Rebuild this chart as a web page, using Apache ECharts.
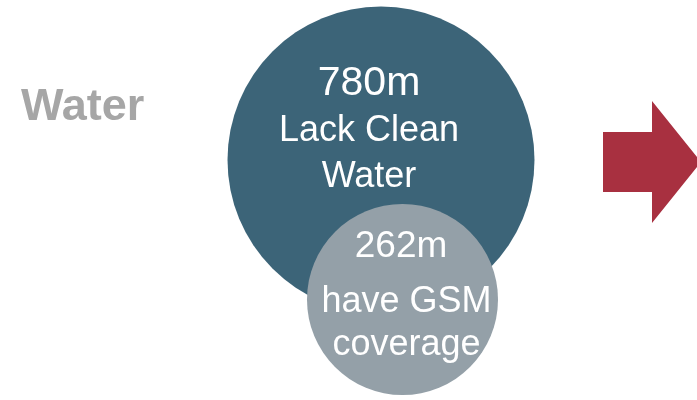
<!DOCTYPE html>
<html>
<head>
<meta charset="utf-8">
<script src="https://cdn.jsdelivr.net/npm/echarts@6/dist/echarts.min.js"></script>
<style>
  html, body { margin: 0; padding: 0; background: #ffffff; }
  #chart { width: 697px; height: 400px; }
</style>
</head>
<body>
<div id="chart"></div>
<script>
// Population figures (millions) and their captions
const groups = ['Lack Clean\nWater', 'have GSM\ncoverage'];
const values = [780, 262];
const valueLabels = ['780m', '262m'];
const sectionTitle = 'Water';

// Layout: bubble centres and diameters on a pixel-sized hidden grid
const layout = [
  { cx: 381, cy: 160, d: 307, color: '#3c6478', offset: [-12, -30], numSize: 41, numPad: 0, lh: [49, 46, 46] },
  { cx: 402.5, cy: 299.5, d: 191, color: '#94a0a8', offset: [4, -10.5], numSize: 37, numPad: 11, lh: [69.5, 42.5, 42.5] }
];

const FONT = '"Liberation Sans", Arial, sans-serif';

const chart = echarts.init(document.getElementById('chart'), null, { renderer: 'canvas' });

const bubbleData = values.map((v, i) => {
  const L = layout[i];
  const lines = groups[i].split('\n');
  return {
    value: [L.cx, L.cy, v],
    symbolSize: L.d,
    itemStyle: { color: L.color, opacity: 1 },
    label: {
      show: true,
      position: 'inside',
      offset: L.offset,
      formatter: '{n|' + valueLabels[i] + '}\n{a|' + lines[0] + '}\n{b|' + lines[1] + '}',
      rich: {
        n: { fontSize: L.numSize, lineHeight: L.lh[0], color: '#ffffff', fontFamily: FONT, padding: [0, L.numPad, 0, 0] },
        a: { fontSize: 36, lineHeight: L.lh[1], color: '#ffffff', fontFamily: FONT },
        b: { fontSize: 36, lineHeight: L.lh[2], color: '#ffffff', fontFamily: FONT }
      }
    }
  };
});

chart.setOption({
  animation: false,
  backgroundColor: '#ffffff',
  title: {
    text: sectionTitle,
    left: 21,
    top: 85,
    padding: 0,
    textStyle: { fontSize: 45, fontWeight: 'bold', color: '#a6a6a6', fontFamily: FONT }
  },
  grid: { left: 0, right: 0, top: 0, bottom: 0 },
  xAxis: { type: 'value', min: 0, max: 697, show: false },
  yAxis: { type: 'value', min: 0, max: 400, inverse: true, show: false },
  series: [{
    type: 'scatter',
    symbol: 'circle',
    data: bubbleData,
    emphasis: { disabled: true }
  }],
  graphic: [{
    type: 'polygon',
    shape: { points: [[603, 132], [652, 132], [652, 101], [701, 162], [652, 223], [652, 192], [603, 192]] },
    style: { fill: '#a83040' }
  }]
});
</script>
</body>
</html>
